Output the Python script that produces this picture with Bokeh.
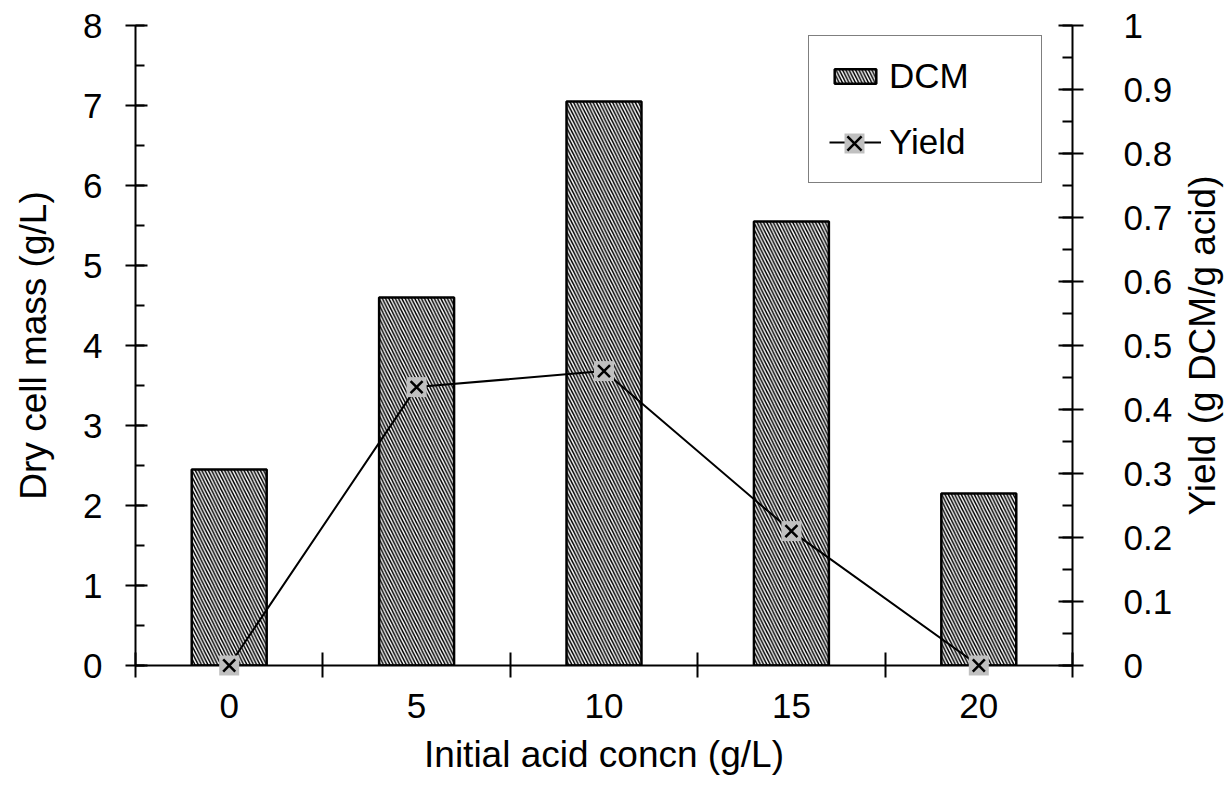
import math
from bokeh.plotting import figure
from bokeh.layouts import row
from bokeh.models import (Range1d, LinearAxis, FixedTicker, SingleIntervalTicker,
                          Legend, LegendItem)
from bokeh.embed import file_html
from bokeh.resources import INLINE

# ---- data ----
acid_conc = [0, 5, 10, 15, 20]               # Initial acid concn (g/L)
dcm = [2.45, 4.6, 7.05, 5.55, 2.15]          # Dry cell mass (g/L)
yield_vals = [0.0, 0.435, 0.46, 0.21, 0.0]   # Yield (g DCM/g acid)

FONT = "Liberation Sans"
TICK_FS = "35px"
LABEL_FS = "37px"
step = acid_conc[1] - acid_conc[0]
boundaries = [c - step / 2 for c in acid_conc] + [acid_conc[-1] + step / 2]

p = figure(width=1178, height=788, output_backend="svg", toolbar_location=None,
           x_range=Range1d(boundaries[0], boundaries[-1]), y_range=Range1d(0, 8),
           min_border_left=135, min_border_right=106, min_border_top=25,
           min_border_bottom=123)
p.extra_y_ranges = {"yield": Range1d(0, 1)}
p.outline_line_color = None
p.xgrid.visible = False
p.ygrid.visible = False
p.background_fill_color = "white"
p.border_fill_color = "white"

bars = p.vbar(x=acid_conc, top=dcm, width=step * 0.4, fill_color="white",
              line_color="black", line_width=2.5, hatch_pattern="\\",
              hatch_color="black", hatch_scale=6.5, hatch_weight=1.5)
line = p.line(acid_conc, yield_vals, y_range_name="yield", line_color="black",
              line_width=2)
sq = p.scatter(acid_conc, yield_vals, y_range_name="yield", marker="square",
               size=20, fill_color="#c0c0c0", line_color=None, level="overlay")
xm = p.scatter(acid_conc, yield_vals, y_range_name="yield", marker="x",
               size=17, line_color="black", line_width=2.5, level="overlay")


def style_axis(ax):
    ax.axis_line_width = 2
    ax.axis_line_color = "black"
    ax.major_tick_line_width = 2
    ax.minor_tick_line_width = 2
    ax.major_tick_line_color = "black"
    ax.minor_tick_line_color = "black"
    ax.major_label_text_font = FONT
    ax.major_label_text_font_size = TICK_FS
    ax.major_label_text_color = "black"
    ax.axis_label_text_font = FONT
    ax.axis_label_text_font_size = LABEL_FS
    ax.axis_label_text_font_style = "normal"
    ax.axis_label_text_color = "black"


# bottom axis
xa = p.xaxis[0]
style_axis(xa)
xa.ticker = FixedTicker(ticks=acid_conc, minor_ticks=boundaries)
xa.major_tick_line_color = None
xa.major_tick_out = 12
xa.major_tick_in = 0
xa.minor_tick_in = 13
xa.minor_tick_out = 12
xa.major_label_standoff = 16
xa.axis_label = "Initial acid concn (g/L)"
xa.axis_label_standoff = 13

# left axis
ya = p.yaxis[0]
style_axis(ya)
ya.ticker = SingleIntervalTicker(interval=1, num_minor_ticks=2)
ya.major_tick_out = 10
ya.major_tick_in = 12
ya.minor_tick_out = 0
ya.minor_tick_in = 9
ya.major_label_standoff = 23
ya.axis_label = "Dry cell mass (g/L)"
ya.axis_label_standoff = 26

# right axis (ticks)
ra = LinearAxis(y_range_name="yield",
                ticker=SingleIntervalTicker(interval=0.1, num_minor_ticks=2))
style_axis(ra)
ra.major_tick_out = 11
ra.major_tick_in = 14
ra.minor_tick_out = 0
ra.minor_tick_in = 10
ra.major_label_overrides = {0: "0", 1: "1"}
ra.major_label_standoff = 40
p.add_layout(ra, "right")

legend = Legend(items=[LegendItem(label="DCM", renderers=[bars]),
                       LegendItem(label="Yield", renderers=[line])],
                location=(673, 482), glyph_width=52, glyph_height=18,
                label_text_font=FONT, label_text_font_size="35px",
                label_text_color="black",
                label_standoff=8, label_width=132, padding=20, spacing=26,
                border_line_color="black", border_line_width=1.5,
                background_fill_color="white", background_fill_alpha=1)
p.add_layout(legend)

# larger markers for the Yield legend entry
legend_mk = Legend(items=[LegendItem(label="", renderers=[sq, xm])],
                   location=(693, 497), glyph_width=52, glyph_height=50,
                   padding=0, spacing=0, label_standoff=0, label_width=0,
                   border_line_color=None, background_fill_alpha=0)
p.add_layout(legend_mk)

# narrow strip holding the secondary-axis title (reads bottom-to-top)
p2 = figure(width=47, height=788, output_backend="svg", toolbar_location=None,
            x_range=Range1d(0, 1), y_range=Range1d(0, 1), x_axis_location=None,
            min_border_left=44, min_border_right=0, min_border_top=25,
            min_border_bottom=123)
p2.outline_line_color = None
p2.xgrid.visible = False
p2.ygrid.visible = False
p2.background_fill_color = "white"
p2.border_fill_color = "white"
ta = p2.yaxis[0]
style_axis(ta)
ta.ticker = FixedTicker(ticks=[])
ta.axis_line_color = None
ta.major_tick_line_color = None
ta.minor_tick_line_color = None
ta.major_tick_out = 0
ta.major_tick_in = 0
ta.minor_tick_out = 0
ta.minor_tick_in = 0
ta.major_label_standoff = 0
ta.axis_label = "Yield (g DCM/g acid)"
ta.axis_label_standoff = 0

layout = row(p, p2, spacing=0)
open("out.html", "w").write(file_html(layout, INLINE))
